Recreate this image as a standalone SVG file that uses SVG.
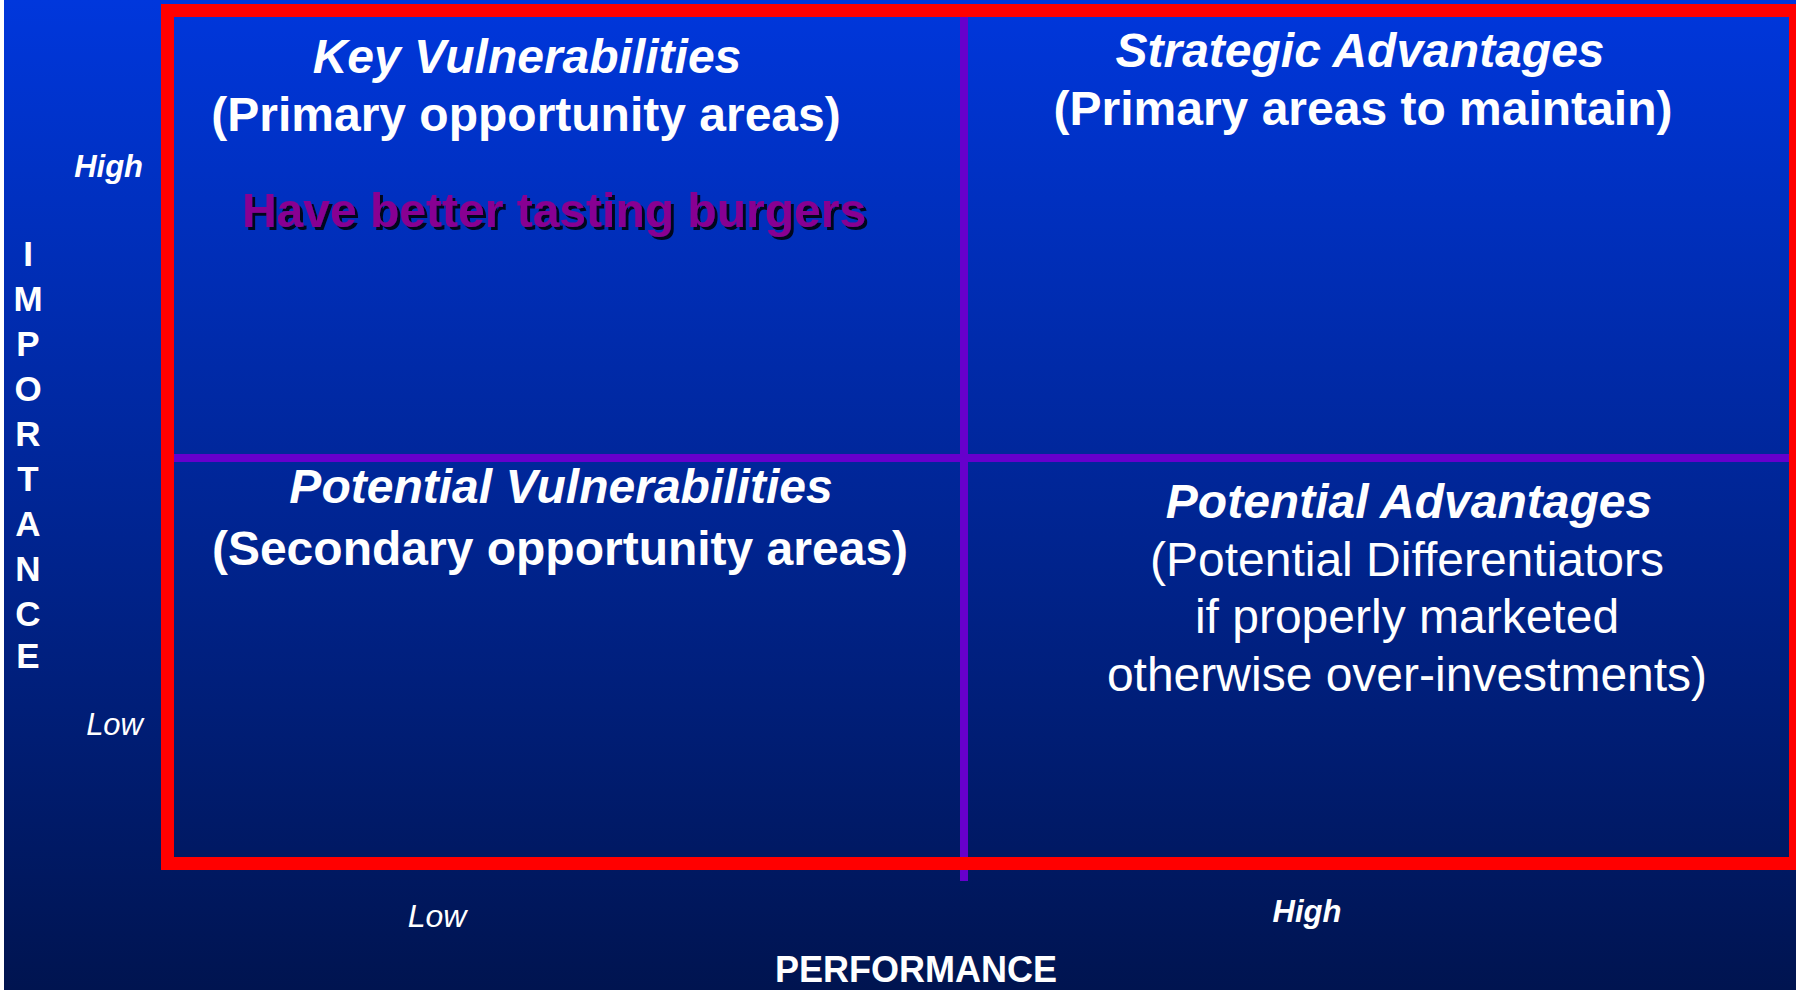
<svg xmlns="http://www.w3.org/2000/svg" width="1796" height="990" viewBox="0 0 1796 990">
  <defs>
    <linearGradient id="bg" x1="0" y1="0" x2="0" y2="1">
      <stop offset="0" stop-color="#0037DC"/>
      <stop offset="1" stop-color="#001450"/>
    </linearGradient>
    <filter id="drop" x="-5%" y="-20%" width="110%" height="150%">
      <feOffset dx="3" dy="3" in="SourceAlpha" result="off"/>
      <feFlood flood-color="#000000" flood-opacity="0.85"/>
      <feComposite in2="off" operator="in" result="sh"/>
      <feMerge>
        <feMergeNode in="sh"/>
        <feMergeNode in="SourceGraphic"/>
      </feMerge>
    </filter>
    <style>
      .t { font-family: "Liberation Sans", Arial, sans-serif; fill: #FFFFFF; text-anchor: middle; }
      .h { font-size: 48px; font-weight: bold; }
      .hi { font-size: 48px; font-weight: bold; font-style: italic; }
      .r { font-size: 48px; }
      .axis { font-size: 35px; font-weight: bold; }
      .tick { font-size: 31px; font-style: italic; }
      .divider { stroke: #6600CC; stroke-width: 8; fill: none; }
      .frame { stroke: #FF0000; stroke-width: 13; fill: none; }
    </style>
  </defs>

  <!-- backdrop -->
  <rect x="0" y="0" width="1796" height="990" fill="#FFFFFF"/>
  <rect x="4" y="0" width="1792" height="990" fill="url(#bg)"/>

  <!-- quadrant dividers and outer frame -->
  <g id="connectors">
    <line class="divider" x1="174" y1="458" x2="1789" y2="458"/>
    <line class="divider" x1="964" y1="17" x2="964" y2="881"/>
    <rect class="frame" x="167.5" y="10.5" width="1628" height="853"/>
  </g>

  <!-- vertical axis -->
  <g id="axis-importance" class="t axis">
    <text x="28" y="266">I</text>
    <text x="28" y="311">M</text>
    <text x="28" y="356">P</text>
    <text x="28" y="401">O</text>
    <text x="28" y="446">R</text>
    <text x="28" y="491">T</text>
    <text x="28" y="536">A</text>
    <text x="28" y="581">N</text>
    <text x="28" y="626">C</text>
    <text x="28" y="668">E</text>
  </g>
  <g id="importance-high"><text class="t tick" x="143" y="177" style="text-anchor:end;font-weight:bold">High</text></g>
  <g id="importance-low"><text class="t tick" x="143" y="735" style="text-anchor:end">Low</text></g>

  <!-- horizontal axis -->
  <g id="performance-low"><text class="t tick" x="437" y="927" style="font-size:32px">Low</text></g>
  <g id="performance-high"><text class="t tick" x="1307" y="922" style="font-weight:bold">High</text></g>
  <g id="axis-performance"><text class="t axis" x="916" y="982" style="font-size:36px">PERFORMANCE</text></g>

  <!-- quadrants -->
  <g id="key-vulnerabilities">
    <text class="t hi" x="527" y="73">Key Vulnerabilities</text>
    <text class="t h" x="526" y="131">(Primary opportunity areas)</text>
    <text class="t h" x="554" y="227" style="fill:#880092" filter="url(#drop)">Have better tasting burgers</text>
  </g>

  <g id="strategic-advantages">
    <text class="t hi" x="1360" y="67">Strategic Advantages</text>
    <text class="t h" x="1363" y="125">(Primary areas to maintain)</text>
  </g>

  <g id="potential-vulnerabilities">
    <text class="t hi" x="561" y="503">Potential Vulnerabilities</text>
    <text class="t h" x="560" y="565">(Secondary opportunity areas)</text>
  </g>

  <g id="potential-advantages">
    <text class="t hi" x="1409" y="518">Potential Advantages</text>
    <text class="t r" x="1407" y="576">(Potential Differentiators</text>
    <text class="t r" x="1407" y="633">if properly marketed</text>
    <text class="t r" x="1407" y="691">otherwise over-investments)</text>
  </g>
</svg>
